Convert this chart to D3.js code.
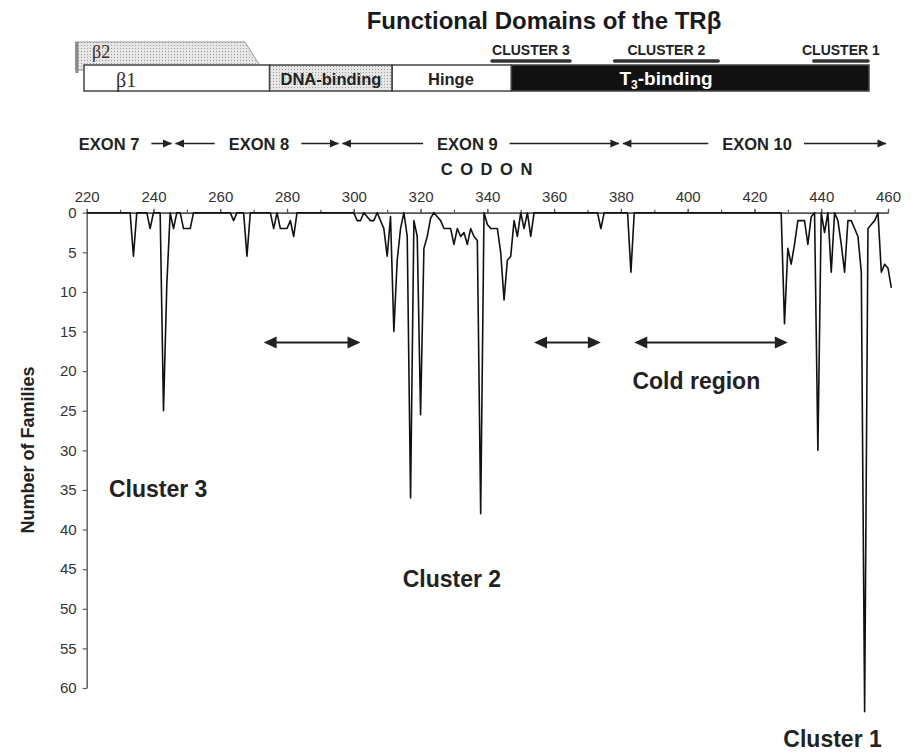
<!DOCTYPE html>
<html>
<head>
<meta charset="utf-8">
<script src="https://cdn.jsdelivr.net/npm/d3@7"></script>
<style>
body { margin: 0; background: #fff; }
text { font-family: "Liberation Sans", Arial, sans-serif; }
</style>
</head>
<body>
<svg id="chart" width="916" height="756"></svg>
<script>
// number of families with a mutation at each codon
codons   = [220, 233, 234, 235, 238, 239, 240, 242, 243, 244, 245, 246, 247, 248, 249, 250, 251, 252,
            263, 264, 265, 267, 268, 269, 275, 276, 277, 278, 279, 280, 281, 282, 283,
            300, 301, 302, 303, 304, 305, 306, 307, 308, 309, 310, 311, 312, 313, 314, 315, 316, 317,
            318, 319, 320, 321, 322, 323, 324, 325, 326, 327, 328, 329, 330, 331, 332, 333, 334, 335,
            336, 337, 338, 339, 340, 341, 342, 343, 344, 345, 346, 347, 348, 349, 350, 351, 352, 353, 354,
            373, 374, 375, 382, 383, 384,
            428, 429, 430, 431, 432, 433, 434, 435, 436, 437, 438, 439, 440, 441, 442, 443, 444, 445,
            446, 447, 448, 449, 450, 451, 452, 453, 454, 455, 456, 457, 458, 459, 460, 461];
families = [0, 0, 5.5, 0, 0, 2, 0, 0, 25, 9, 0, 2, 0, 0, 2, 2, 2, 0,
            0, 1, 0, 0, 5.5, 0, 0, 2, 0, 2, 2, 2, 1, 3, 0,
            0, 1, 1, 0, 0.5, 1, 1, 0, 1, 2, 5.5, 0.5, 15, 6, 2, 0, 3, 36,
            1, 3, 25.5, 4.5, 3, 0.7, 0, 0.5, 1, 2, 2, 2, 4, 2, 3, 2.5, 4, 2,
            3, 3.5, 38, 0, 1.5, 2, 2, 2, 5, 11, 6, 5.5, 1, 3, 0, 2, 0, 3, 0,
            0, 2, 0, 0, 7.5, 0,
            0, 14, 4.5, 6.5, 4, 1, 1, 1, 4, 0.5, 0, 30, 0, 2.5, 0, 7.5, 0, 1,
            4, 7.5, 1, 1, 2, 3, 7.5, 63, 2, 1.5, 1, 0, 7.5, 6.5, 7, 9.5];

xTicks = d3.range(220, 461, 20);
xMinor = d3.range(220, 461, 10);
yTicks = d3.range(0, 61, 5);

// exons along the codon axis
exonNames   = ["EXON 7", "EXON 8", "EXON 9", "EXON 10"];
exonStart   = [220, 246, 296, 380];
exonEnd     = [246, 296, 380, 460];
exonLabelAt = [226.7, 271.6, 334, 420.8];

// cold regions (double arrows)
coldStart = [273, 354, 384];
coldEnd   = [302, 374, 430];

// labels inside the plot: text, codon, families
noteText  = ["Cluster 3", "Cluster 2", "Cluster 1", "Cold region"];
noteCodon = [241.4, 329.4, 443.4, 402.6];
noteFam   = [35.9, 47.3, 67.5, 22.2];

// schematic of the receptor, in residues
domainNames   = ["β1", "DNA-binding", "Hinge", "T3-binding"];
domainStart   = [0, 109, 181, 251];
domainEnd     = [109, 181, 251, 461];
domainLabelAt = [24.7, 145, 215.5, 341.8];
clusterNames = ["CLUSTER 3", "CLUSTER 2", "CLUSTER 1"];
clusterStart = [239, 311, 428];
clusterEnd   = [286, 373, 461];

var svg = d3.select("#chart");
var x = d3.scaleLinear().domain([220, 460]).range([86.7, 888]);
var y = d3.scaleLinear().domain([0, 60]).range([212.7, 688]);
var sx = d3.scaleLinear().domain([0, 461]).range([84, 869]);

var defs = svg.append("defs");
var pat = defs.append("pattern").attr("id", "dots")
    .attr("width", 3).attr("height", 3).attr("patternUnits", "userSpaceOnUse");
pat.append("rect").attr("width", 3).attr("height", 3).attr("fill", "#e6e6e6");
pat.append("rect").attr("width", 1).attr("height", 1).attr("fill", "#9c9c9c");

function arrowHead(g, tip, yy, dir, len, half) {
    // dir = 1 points right, -1 points left
    g.append("path")
        .attr("d", "M" + tip + "," + yy + "L" + (tip - dir * len) + "," + (yy - half) +
                   "L" + (tip - dir * len) + "," + (yy + half) + "Z")
        .attr("fill", "#222");
}

// title
svg.append("text")
    .attr("x", 544).attr("y", 29)
    .attr("text-anchor", "middle")
    .style("font-size", "24px").style("font-weight", "bold").attr("fill", "#1a1a1a")
    .text("Functional Domains of the TRβ");

// beta2 tab behind beta1
var schem = svg.append("g");
schem.append("path")
    .attr("d", "M" + sx(-5) + ",42L" + sx(94.5) + ",42L" + sx(105) + ",70L" + sx(-5) + ",70Z")
    .attr("fill", "url(#dots)").attr("stroke", "#999").attr("stroke-width", 1);
schem.append("rect").attr("x", sx(-5)).attr("y", 42).attr("width", 3).attr("height", 31).attr("fill", "#8a8a8a");
schem.append("text")
    .attr("x", sx(4.7)).attr("y", 58)
    .style("font-family", "'Liberation Serif', 'Times New Roman', serif").style("font-size", "18px")
    .attr("fill", "#3a2a2a").text("β2");

var fills = ["#fff", "url(#dots)", "#fff", "#111"];
schem.selectAll(".dom").data(domainNames).enter().append("rect")
    .attr("class", "dom")
    .attr("x", (d, i) => sx(domainStart[i]))
    .attr("y", 65)
    .attr("width", (d, i) => sx(domainEnd[i]) - sx(domainStart[i]))
    .attr("height", 26)
    .attr("fill", (d, i) => fills[i])
    .attr("stroke", "#444").attr("stroke-width", 1.5);

schem.append("text")
    .attr("x", sx(domainLabelAt[0])).attr("y", 87).attr("text-anchor", "middle")
    .style("font-family", "'Liberation Serif', 'Times New Roman', serif").style("font-size", "20px")
    .attr("fill", "#3a2a2a").text(domainNames[0]);
[1, 2].forEach(i => {
    schem.append("text")
        .attr("x", sx(domainLabelAt[i])).attr("y", 84.5).attr("text-anchor", "middle")
        .style("font-size", "16.5px").style("font-weight", "bold").attr("fill", "#222")
        .text(domainNames[i]);
});
var t3 = schem.append("text")
    .attr("x", sx(domainLabelAt[3])).attr("y", 85).attr("text-anchor", "middle")
    .style("font-size", "19px").style("font-weight", "bold").attr("fill", "#fff");
t3.append("tspan").text("T");
t3.append("tspan").attr("dy", 4).style("font-size", "12px").text("3");
t3.append("tspan").attr("dy", -4).text("-binding");

// cluster bars above the schematic
schem.selectAll(".cbar").data(clusterNames).enter().append("line")
    .attr("class", "cbar")
    .attr("x1", (d, i) => sx(clusterStart[i]) + 1).attr("x2", (d, i) => sx(clusterEnd[i]) - 1)
    .attr("y1", 61).attr("y2", 61)
    .attr("stroke", "#333").attr("stroke-width", 3.5).attr("stroke-linecap", "round");
schem.selectAll(".clab").data(clusterNames).enter().append("text")
    .attr("class", "clab")
    .attr("x", (d, i) => (sx(clusterStart[i]) + sx(clusterEnd[i])) / 2)
    .attr("y", 55).attr("text-anchor", "middle")
    .style("font-size", "14px").style("font-weight", "bold").attr("fill", "#222")
    .text(d => d);

// exon row
var exon = svg.append("g");
var exonY = 143.5;
exonNames.forEach((name, i) => {
    var t = exon.append("text")
        .attr("x", x(exonLabelAt[i])).attr("y", 150).attr("text-anchor", "middle")
        .style("font-size", "16.5px").style("font-weight", "bold").attr("fill", "#222")
        .text(name);
    var w = t.node().getComputedTextLength();
    var left = x(exonLabelAt[i]) - w / 2 - 14;
    var right = x(exonLabelAt[i]) + w / 2 + 12;
    if (i > 0) {
        exon.append("line").attr("x1", x(exonStart[i]) + 2).attr("x2", left)
            .attr("y1", exonY).attr("y2", exonY).attr("stroke", "#222").attr("stroke-width", 1.6);
        arrowHead(exon, x(exonStart[i]) + 1.5, exonY, -1, 9, 4);
    }
    exon.append("line").attr("x1", right).attr("x2", x(exonEnd[i]) - 2)
        .attr("y1", exonY).attr("y2", exonY).attr("stroke", "#222").attr("stroke-width", 1.6);
    arrowHead(exon, x(exonEnd[i]) - 1.5, exonY, 1, 9, 4);
});

svg.append("text")
    .attr("x", x(340)).attr("y", 175).attr("text-anchor", "middle")
    .style("font-size", "16.5px").style("font-weight", "bold").style("letter-spacing", "1.5px")
    .attr("fill", "#222").text("C O D O N");

// axes
var minor = svg.append("g").attr("transform", "translate(0," + y(0) + ")")
    .call(d3.axisTop(x).tickValues(xMinor).tickSize(3).tickSizeOuter(0).tickFormat(""));
var xAxis = svg.append("g").attr("transform", "translate(0," + y(0) + ")")
    .call(d3.axisTop(x).tickValues(xTicks).tickSize(4).tickSizeOuter(0).tickPadding(6.5));
var yAxis = svg.append("g").attr("transform", "translate(" + x(220) + ",0)")
    .call(d3.axisLeft(y).tickValues(yTicks).tickSize(4).tickSizeOuter(0).tickPadding(6));
[minor, xAxis, yAxis].forEach(a => {
    a.select(".domain").attr("stroke", "#555").attr("stroke-width", 1.4);
    a.selectAll(".tick line").attr("stroke", "#555").attr("stroke-width", 1.2);
    a.selectAll(".tick text")
        .style("font-family", "'Liberation Sans', Arial, sans-serif")
        .style("font-size", "15px").attr("fill", "#333");
});

svg.append("text")
    .attr("transform", "translate(34,450) rotate(-90)")
    .attr("text-anchor", "middle")
    .style("font-size", "18px").style("font-weight", "bold").attr("fill", "#222")
    .text("Number of Families");

// the mutation profile
var pts = codons.map((c, i) => [c, families[i]]);
svg.append("path")
    .datum(pts)
    .attr("d", d3.line().x(d => x(d[0])).y(d => y(d[1])))
    .attr("fill", "none").attr("stroke", "#111").attr("stroke-width", 1.6)
    .attr("stroke-linejoin", "round");

// cold region arrows
var cold = svg.append("g");
var coldY = y(16.4);
coldStart.forEach((s, i) => {
    cold.append("line").attr("x1", x(s) + 4).attr("x2", x(coldEnd[i]) - 4)
        .attr("y1", coldY).attr("y2", coldY).attr("stroke", "#222").attr("stroke-width", 2);
    arrowHead(cold, x(s), coldY, -1, 13, 6);
    arrowHead(cold, x(coldEnd[i]), coldY, 1, 13, 6);
});

// notes
svg.selectAll(".note").data(noteText).enter().append("text")
    .attr("class", "note")
    .attr("x", (d, i) => x(noteCodon[i]))
    .attr("y", (d, i) => y(noteFam[i]))
    .attr("text-anchor", "middle")
    .style("font-size", "23px").style("font-weight", "bold").attr("fill", "#222")
    .text(d => d);
</script>
</body>
</html>
